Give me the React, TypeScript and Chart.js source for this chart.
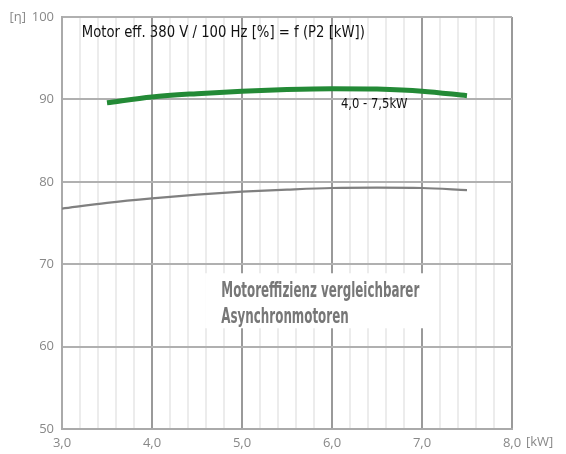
import React, { useEffect, useRef } from "react";
import { Chart, registerables } from "chart.js";

Chart.register(...registerables);

const greenX = [3.5, 4.0, 4.5, 5.0, 5.5, 6.0, 6.5, 7.0, 7.5];
const greenY = [89.6, 90.3, 90.7, 91.0, 91.2, 91.3, 91.25, 91.0, 90.45];
const grayX = [3.0, 3.5, 4.0, 4.5, 5.0, 5.5, 6.0, 6.5, 7.0, 7.5];
const grayY = [76.75, 77.45, 78.0, 78.45, 78.8, 79.05, 79.25, 79.3, 79.25, 79.0];
const xMin = 3, xMax = 8, yMin = 50, yMax = 100;
const titleText = "Motor eff. 380 V / 100 Hz [%] = f (P2 [kW])";
const seriesLabel = "4,0 - 7,5kW";
const noteLines = ["Motoreffizienz vergleichbarer", "Asynchronmotoren"];
const xUnit = "[kW]";
const yUnit = "[η]";

const condensed = "'DejaVu Sans Condensed', 'DejaVu Sans', sans-serif";

function drawScaled(ctx: any, text: string, x: number, y: number, sx: number) {
  ctx.save();
  ctx.translate(x, y);
  ctx.scale(sx, 1);
  ctx.fillText(text, 0, 0);
  ctx.restore();
}

const textPlugin = {
  id: "texts",
  beforeDatasetsDraw(chart: any) {
    const { ctx } = chart;
    const x = chart.scales.x, y = chart.scales.y;
    ctx.save();
    ctx.fillStyle = "#ffffff";
    const x0 = x.getPixelForValue(4.59);
    const y0 = y.getPixelForValue(68.9);
    ctx.fillRect(x0, y0, 230, 55);
    ctx.restore();
  },
  afterDraw(chart: any) {
    const { ctx } = chart;
    const x = chart.scales.x, y = chart.scales.y;
    ctx.save();
    ctx.textBaseline = "middle";
    ctx.textAlign = "left";
    ctx.fillStyle = "#111";
    ctx.font = "15px " + condensed;
    drawScaled(ctx, titleText, x.getPixelForValue(3.22), y.getPixelForValue(98.0), 0.98);
    ctx.font = "14px " + condensed;
    drawScaled(ctx, seriesLabel, x.getPixelForValue(6.1), y.getPixelForValue(89.4), 0.92);
    ctx.fillStyle = "#777";
    ctx.textBaseline = "alphabetic";
    ctx.font = "bold 21px " + condensed;
    const w = ctx.measureText(noteLines[0]).width;
    const sx = 198 / w;
    drawScaled(ctx, noteLines[0], x.getPixelForValue(4.77), y.getPixelForValue(65.98), sx);
    drawScaled(ctx, noteLines[1], x.getPixelForValue(4.77), y.getPixelForValue(62.82), sx);
    ctx.textBaseline = "middle";
    ctx.fillStyle = "#888";
    ctx.font = "13px 'Open Sans', sans-serif";
    ctx.fillText(xUnit, x.getPixelForValue(8) + 14, y.bottom + 13);
    ctx.textAlign = "right";
    ctx.fillText(yUnit, 26, y.getPixelForValue(100));
    ctx.restore();
  },
};

export default function App() {
  const ref = useRef<HTMLCanvasElement>(null);
  useEffect(() => {
    const chart = new Chart(ref.current!, {
      type: "line",
      data: {
        datasets: [
          {
            data: grayX.map((v, i) => ({ x: v, y: grayY[i] })),
            borderColor: "#808080",
            borderWidth: 2.2,
            pointRadius: 0,
            cubicInterpolationMode: "monotone",
          },
          {
            data: greenX.map((v, i) => ({ x: v, y: greenY[i] })),
            borderColor: "#238a36",
            borderWidth: 5,
            pointRadius: 0,
            cubicInterpolationMode: "monotone",
          },
        ],
      },
      plugins: [textPlugin],
      options: {
        animation: false,
        responsive: false,
        layout: { padding: { left: 0, right: 54, top: 17, bottom: 0 } },
        plugins: { legend: { display: false }, tooltip: { enabled: false } },
        scales: {
          x: {
            type: "linear",
            min: xMin,
            max: xMax,
            afterBuildTicks: (s: any) => {
              const t = [];
              for (let i = 0; i <= 25; i++) t.push({ value: +(xMin + i * 0.2).toFixed(1) });
              s.ticks = t;
            },
            afterFit: (s: any) => { s.height = 25; },
            grid: {
              color: (c: any) => {
                const v = c.tick ? c.tick.value : 0;
                return Math.abs(v - Math.round(v)) < 1e-6 ? "#9a9a9a" : "#ececec";
              },
              lineWidth: 2,
              drawTicks: false,
            },
            border: { color: "#aaaaaa", width: 2 },
            ticks: {
              autoSkip: false,
              maxRotation: 0,
              padding: 6,
              color: "#888",
              font: { family: "'Open Sans', sans-serif", size: 13 },
              callback: (v: any) => {
                const n = Number(v);
                return Math.abs(n - Math.round(n)) < 1e-6 ? n.toFixed(1).replace(".", ",") : "";
              },
            },
          },
          y: {
            min: yMin,
            max: yMax,
            afterFit: (s: any) => { s.width = 62; },
            grid: { color: "#b0b0b0", lineWidth: 2, drawTicks: false },
            border: { color: "#aaaaaa", width: 2 },
            ticks: {
              stepSize: 10,
              padding: 8,
              color: "#888",
              font: { family: "'Open Sans', sans-serif", size: 13 },
            },
          },
        },
      },
    } as any);
    return () => chart.destroy();
  }, []);
  return (
    <div style={{ position: "fixed", left: 0, top: 0, width: 566, height: 454, background: "#fff" }}>
      <canvas ref={ref} width={566} height={454} />
    </div>
  );
}
